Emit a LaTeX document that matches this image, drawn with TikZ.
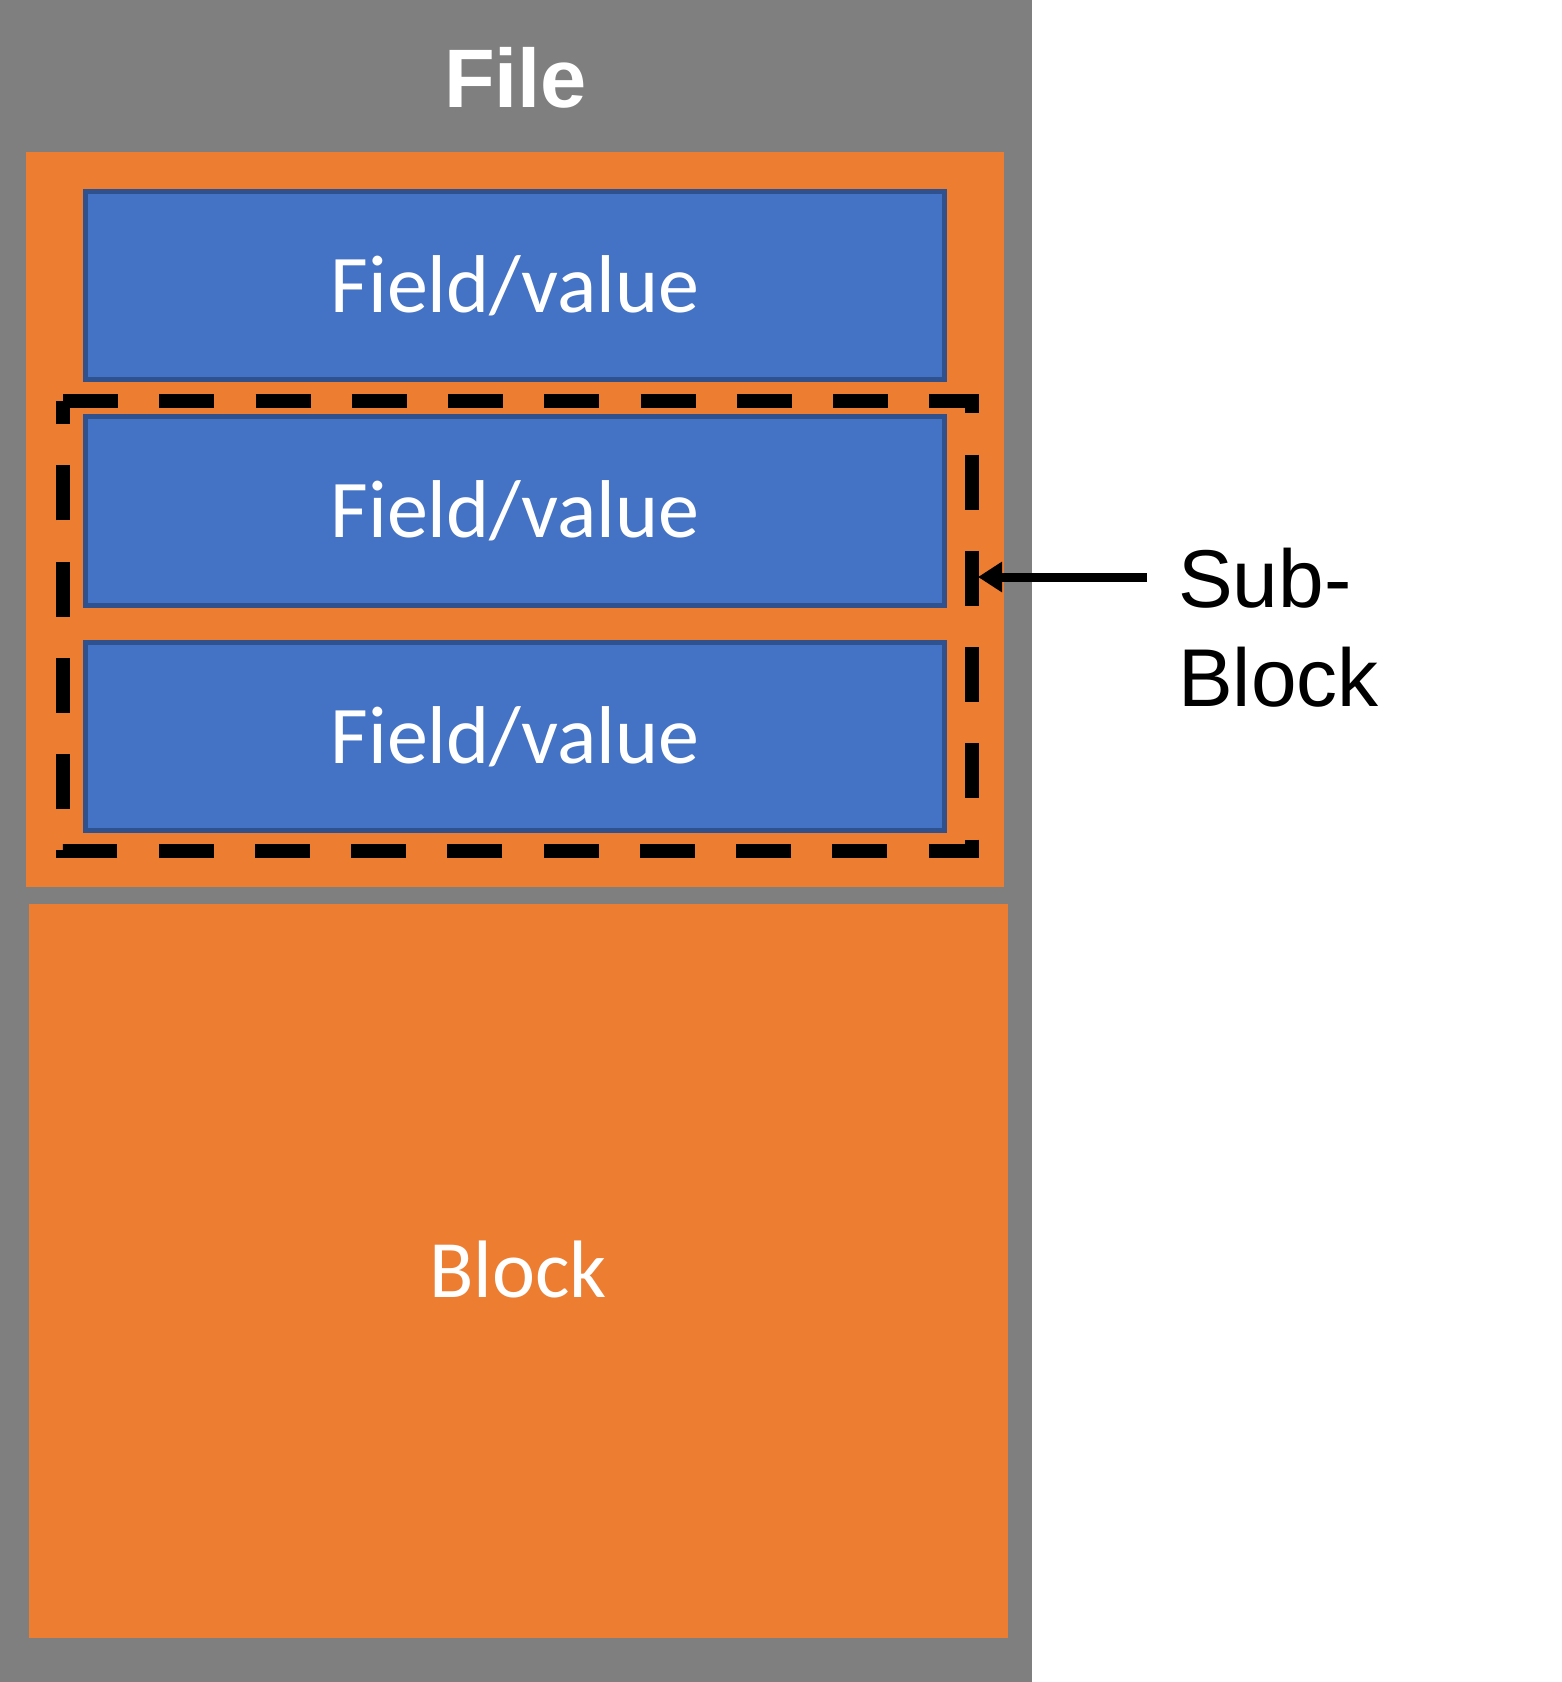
\documentclass[tikz,border=0pt]{standalone}
\usepackage{fontspec}
\setmainfont{Carlito}
\newfontfamily\arialfont{Liberation Sans}
\usetikzlibrary{arrows.meta}
\definecolor{filegray}{HTML}{7F7F7F}
\definecolor{blockorange}{HTML}{ED7D31}
\definecolor{fieldblue}{HTML}{4472C4}
\definecolor{fieldborder}{HTML}{2F528F}
\tikzset{
  filebox/.style={fill=filegray, draw=none, inner sep=0pt, outer sep=0pt},
  blockbox/.style={fill=blockorange, draw=none, inner sep=0pt, outer sep=0pt,
    text=white, font=\fontsize{81.5}{98}\selectfont, text height=52.5pt, text depth=0pt},
  fieldbox/.style={fill=fieldblue, draw=fieldborder, line width=5pt, inner sep=0pt, outer sep=0pt,
    minimum width=859pt, minimum height=188.5pt,
    text=white, font=\fontsize{82}{98}\selectfont, text height=53pt, text depth=0pt},
  subline/.style={draw=black, line width=13.75pt, dash pattern=on 55pt off 41.25pt},
  pointer/.style={draw=black, line width=9pt, -{Triangle[length=24pt, width=29pt]}},
  titletext/.style={text=white, font=\arialfont\bfseries\fontsize{83}{100}\selectfont, inner sep=0pt},
  labeltext/.style={text=black, font=\arialfont\fontsize{82}{99}\selectfont, inner sep=0pt, align=left},
}
\begin{document}
\begin{tikzpicture}[x=1pt, y=-1pt]
\useasboundingbox (0,0) rectangle (1562,1682);
\fill[white] (0,0) rectangle (1562,1682);
% file
\node[filebox, minimum width=1032pt, minimum height=1682pt] (file) at (516,841) {};
\node[titletext, anchor=base] (filetitle) at (515.5,107) {File};
% blocks
\node[blockbox, minimum width=978pt, minimum height=735pt] (block1) at (515,519.5) {};
\node[blockbox, minimum width=979pt, minimum height=734pt] (block2) at (518,1271) {Block};
% fields
\node[fieldbox] (field1) at (515,285.5) {Field/value};
\node[fieldbox] (field2) at (515,511) {Field/value};
\node[fieldbox] (field3) at (515,736.5) {Field/value};
% sub-block dashed outline
\node[inner sep=0pt, outer sep=0pt, minimum width=909pt, minimum height=450pt] (sub) at (517.5,626) {};
\draw[subline] (sub.north west) -- (sub.north east) -- (sub.south east) -- (sub.south west) -- cycle;
% label and pointer
\node[labeltext, anchor=base west] (sublabel) at (1178,706) {Sub-\\Block};
\coordinate (pstart) at (1147,577);
\coordinate (pend) at (978,577);
\draw[pointer] (pstart) -- (pend);
\end{tikzpicture}
\end{document}
